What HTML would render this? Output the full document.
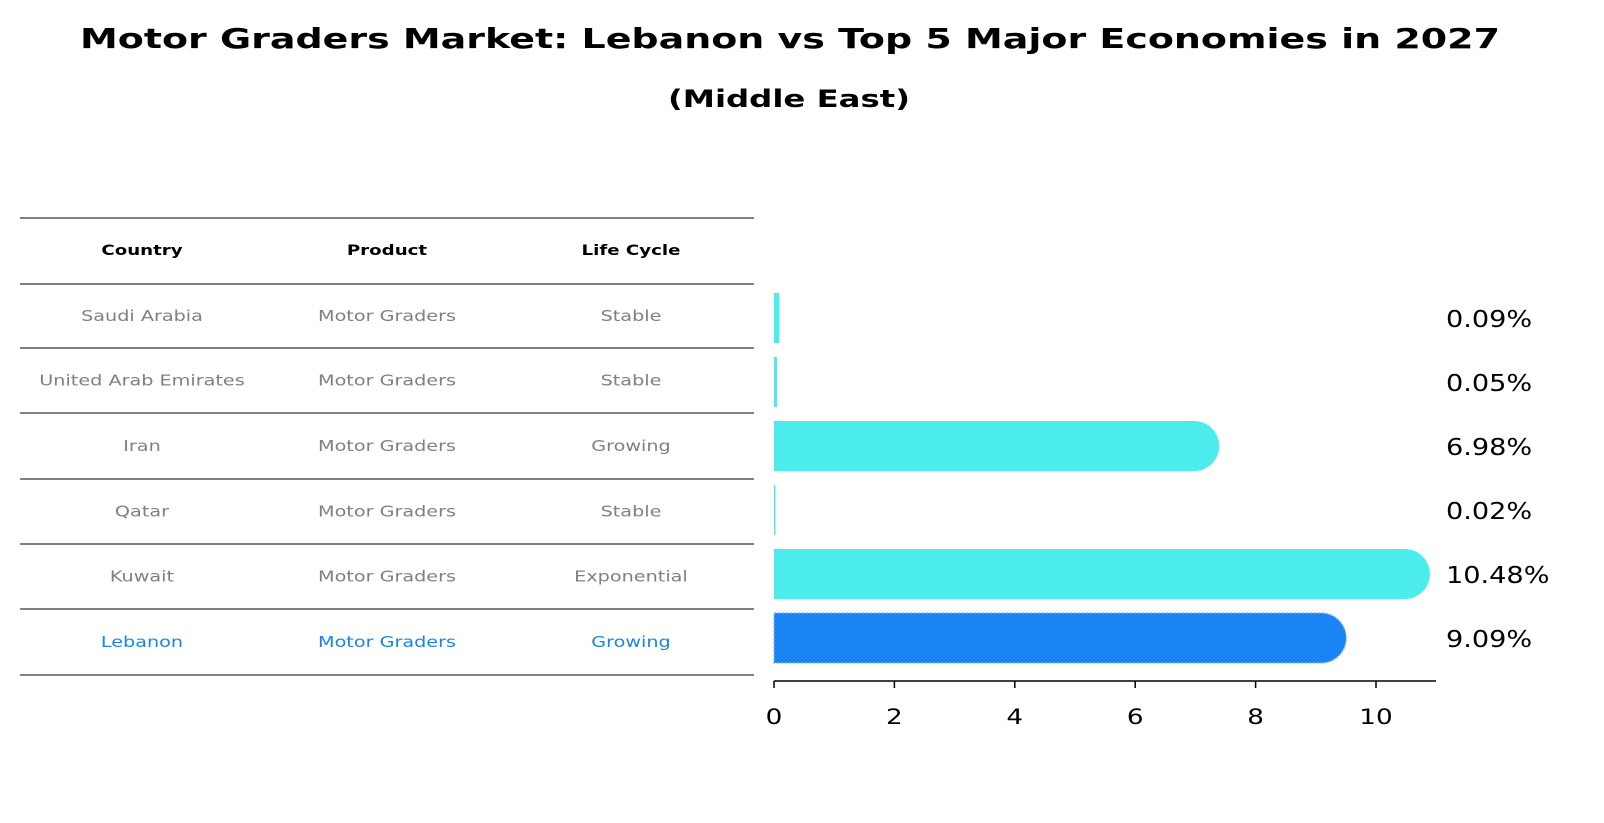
<!DOCTYPE html>
<html><head><meta charset="utf-8"><style>
body{margin:0;background:#fff;font-family:"DejaVu Sans","Liberation Sans",sans-serif;}
svg{display:block}
</style></head><body>
<svg width="1604" height="823" xmlns="http://www.w3.org/2000/svg" style="font-family:'DejaVu Sans','Liberation Sans',sans-serif">
<text x="790" y="48" text-anchor="middle" font-size="28" font-weight="bold" textLength="1420" lengthAdjust="spacingAndGlyphs">Motor Graders Market: Lebanon vs Top 5 Major Economies in 2027</text>
<text x="789" y="107" text-anchor="middle" font-size="24" font-weight="bold" textLength="242" lengthAdjust="spacingAndGlyphs">(Middle East)</text>
<g id="table"></g>
<g id="bars"></g>
</svg>
<script>
const countries=["Saudi Arabia","United Arab Emirates","Iran","Qatar","Kuwait","Lebanon"];
const products=["Motor Graders","Motor Graders","Motor Graders","Motor Graders","Motor Graders","Motor Graders"];
const lifecycles=["Stable","Stable","Growing","Stable","Exponential","Growing"];
const values=[0.09,0.05,6.98,0.02,10.48,9.09];
const ticks=[0,2,4,6,8,10];
const NS="http://www.w3.org/2000/svg";
function mk(t,a,p){const e=document.createElementNS(NS,t);for(const k in a)e.setAttribute(k,a[k]);p.appendChild(e);return e;}
function widen(t,r){const L=t.getComputedTextLength();if(L>0){t.setAttribute('textLength',(L*r).toFixed(1));t.setAttribute('lengthAdjust','spacingAndGlyphs');}}
const tbl=document.getElementById('table');
const lineY=[218,284,348,413,479,544,609,675];
lineY.forEach(y=>{const l=mk('line',{x1:20,x2:754,y1:y,y2:y,stroke:'#000','stroke-width':1},tbl);

});
const colX=[142,387,631];
["Country","Product","Life Cycle"].forEach((h,i)=>{const t=mk('text',{x:colX[i],y:255,'text-anchor':'middle','font-size':14,'font-weight':'bold'},tbl);t.textContent=h;


widen(t,1.3);});
countries.forEach((c,r)=>{const y=(lineY[r+1]+lineY[r+2])/2+5;const col=c==="Lebanon"?'#1a84e8':'#808080';
[c,products[r],lifecycles[r]].forEach((v,i)=>{const t=mk('text',{x:colX[i],y:y,'text-anchor':'middle','font-size':15,fill:col},tbl);t.textContent=v;


widen(t,1.28);});});
const g=document.getElementById('bars');
const x0=774,pxu=60.2;
const X=v=>x0+v*pxu;
const rowY=r=>318+r*64;
const h=50;
values.forEach((v,r)=>{const yc=rowY(r);const leb=countries[r]==="Lebanon";const col=leb?'#1a84f5':'#4cecec';
let d;const w=X(v)-x0;
if(v>1){d=`M${x0},${yc-h/2} H${X(v)} A${h/2},${h/2} 0 0 1 ${X(v)},${yc+h/2} H${x0} Z`;}
else{d=`M${x0},${yc-h/2} h${Math.max(w,1.5)} v${h} h${-Math.max(w,1.5)} Z`;}
const p=mk('path',{d:d,fill:col},g);
if(leb){p.setAttribute('stroke','#7fb8f0');p.setAttribute('stroke-dasharray','2,2');p.setAttribute('stroke-width','1.5');}


const t=mk('text',{x:1446,y:yc+9,'font-size':23},g);t.textContent=v.toFixed(2)+'%';


widen(t,1.18);});
const ax=mk('line',{x1:x0,x2:1436,y1:681,y2:681,stroke:'#000','stroke-width':1.5},g);


ticks.forEach(tv=>{const tk=mk('line',{x1:X(tv),x2:X(tv),y1:681,y2:688,stroke:'#000','stroke-width':1.5},g);


const t=mk('text',{x:X(tv),y:724,'text-anchor':'middle','font-size':21},g);t.textContent=tv;


widen(t,1.25);});
</script>
</body></html>
